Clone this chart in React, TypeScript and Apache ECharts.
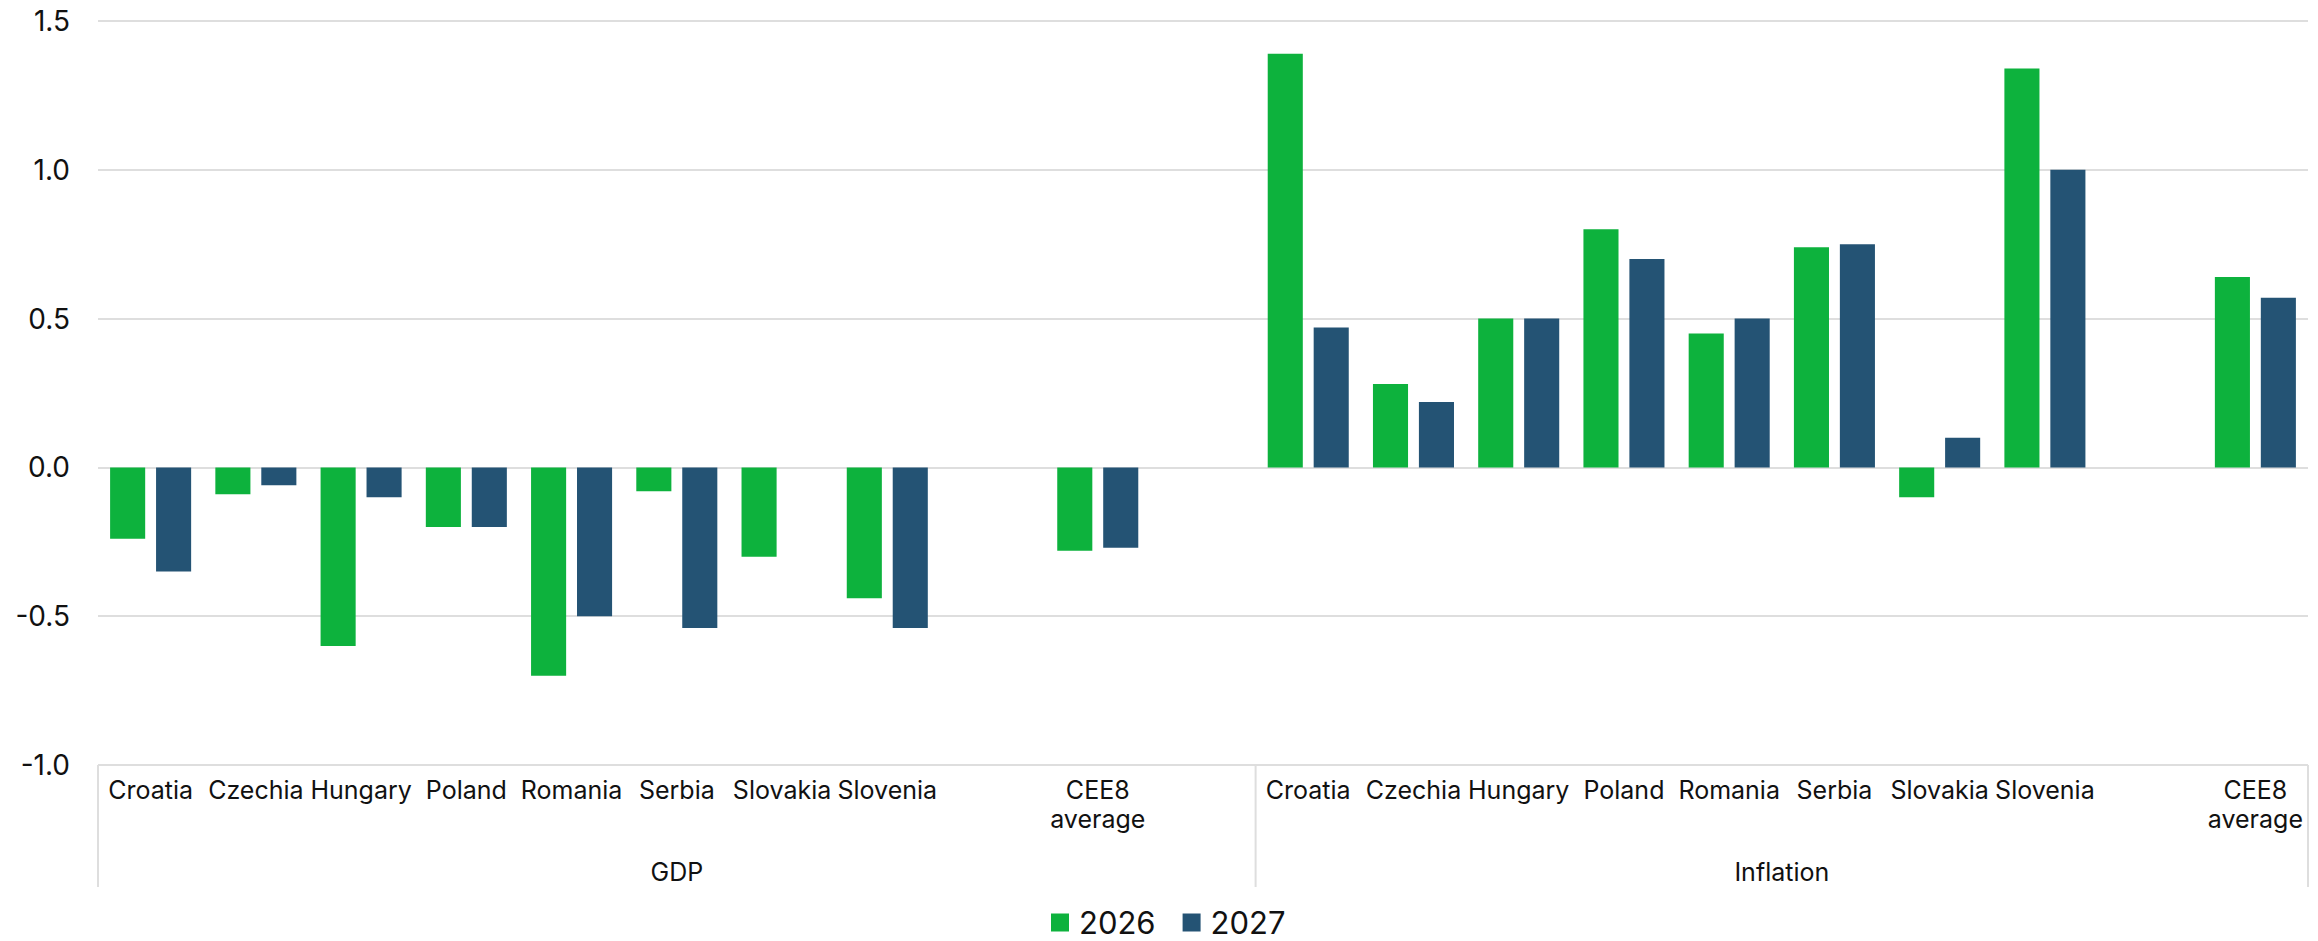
import React, { useEffect, useRef } from "react";
import * as echarts from "echarts";

const countries = ["Croatia", "Czechia", "Hungary", "Poland", "Romania", "Serbia", "Slovakia", "Slovenia", "", "CEE8\naverage"];
const groups = ["GDP", "Inflation"];
const seriesNames = ["2026", "2027"];

const gdp2026: (number | null)[] = [-0.24, -0.09, -0.6, -0.2, -0.7, -0.08, -0.3, -0.44, null, -0.28];
const gdp2027: (number | null)[] = [-0.35, -0.06, -0.1, -0.2, -0.5, -0.54, null, -0.54, null, -0.27];
const inf2026: (number | null)[] = [1.39, 0.28, 0.5, 0.8, 0.45, 0.74, -0.1, 1.34, null, 0.64];
const inf2027: (number | null)[] = [0.47, 0.22, 0.5, 0.7, 0.5, 0.75, 0.1, 1.0, null, 0.57];

const yTicks = { min: -1, max: 1.5, interval: 0.5 };

const GREEN = "#0db23d";
const BLUE = "#245374";
const GRID = "#dedede";
const FONT = "Inter";

export default function App() {
  const ref = useRef<HTMLDivElement>(null);

  useEffect(() => {
    if (!ref.current) return;
    const chart = echarts.init(ref.current, undefined, { renderer: "svg" });

    const categories = [...countries, "", ...countries];
    const s2026 = [...gdp2026, null, ...inf2026];
    const s2027 = [...gdp2027, null, ...inf2027];

    chart.setOption({
      animation: false,
      grid: { left: 98, right: 10, top: 21, bottom: 176, containLabel: false },
      legend: {
        data: seriesNames,
        left: 1046,
        top: 902,
        padding: 5,
        itemWidth: 18,
        itemHeight: 18,
        itemGap: 27,
        icon: "rect",
        textStyle: { fontFamily: FONT, fontSize: 31, lineHeight: 30, color: "#111", padding: [0, 0, 0, 5] },
      },
      xAxis: {
        type: "category",
        data: categories,
        axisLine: { show: false },
        axisTick: { show: false },
        axisLabel: {
          interval: 0,
          margin: 10,
          fontFamily: FONT,
          fontSize: 25,
          lineHeight: 29,
          color: "#111",
        },
      },
      yAxis: {
        type: "value",
        min: yTicks.min,
        max: yTicks.max,
        interval: yTicks.interval,
        axisLine: { show: false },
        axisTick: { show: false },
        splitLine: { lineStyle: { color: GRID, width: 2 } },
        axisLabel: {
          margin: 28,
          fontFamily: FONT,
          fontSize: 28,
          color: "#111",
          formatter: (v: number) => v.toFixed(1),
        },
      },
      series: [
        {
          name: seriesNames[0],
          type: "bar",
          data: s2026,
          itemStyle: { color: GREEN },
          barGap: "31%",
          barCategoryGap: "23%",
        },
        {
          name: seriesNames[1],
          type: "bar",
          data: s2027,
          itemStyle: { color: BLUE },
          barGap: "31%",
          barCategoryGap: "23%",
        },
      ],
    });

    const c0 = chart.convertToPixel({ xAxisIndex: 0 }, 0) as number;
    const c1 = chart.convertToPixel({ xAxisIndex: 0 }, 1) as number;
    const band = c1 - c0;
    const split = countries.length + 1;
    const last = categories.length - 1;
    const xLeft = c0 - band / 2;
    const xMid = (chart.convertToPixel({ xAxisIndex: 0 }, split) as number) - band / 2;
    const xRight = (chart.convertToPixel({ xAxisIndex: 0 }, last) as number) + band / 2;
    const yBottom = chart.convertToPixel({ yAxisIndex: 0 }, yTicks.min) as number;
    const sepLen = 122;

    const sep = (x: number) => ({
      type: "line",
      shape: { x1: x, y1: yBottom, x2: x, y2: yBottom + sepLen },
      style: { stroke: GRID, lineWidth: 2 },
    });
    const groupLabel = (text: string, x: number) => ({
      type: "text",
      x,
      y: yBottom + 107,
      style: {
        text,
        fontFamily: FONT,
        fontSize: 25,
        fill: "#111",
        align: "center",
        verticalAlign: "middle",
      },
    });

    chart.setOption({
      graphic: [
        sep(xLeft),
        sep(xMid),
        sep(xRight),
        groupLabel(groups[0], (xLeft + xMid) / 2),
        groupLabel(groups[1], (xMid + xRight) / 2),
      ],
    });

    return () => chart.dispose();
  }, []);

  return (
    <div
      ref={ref}
      style={{ position: "absolute", left: 0, top: 0, width: 2318, height: 941, background: "#fff" }}
    />
  );
}
